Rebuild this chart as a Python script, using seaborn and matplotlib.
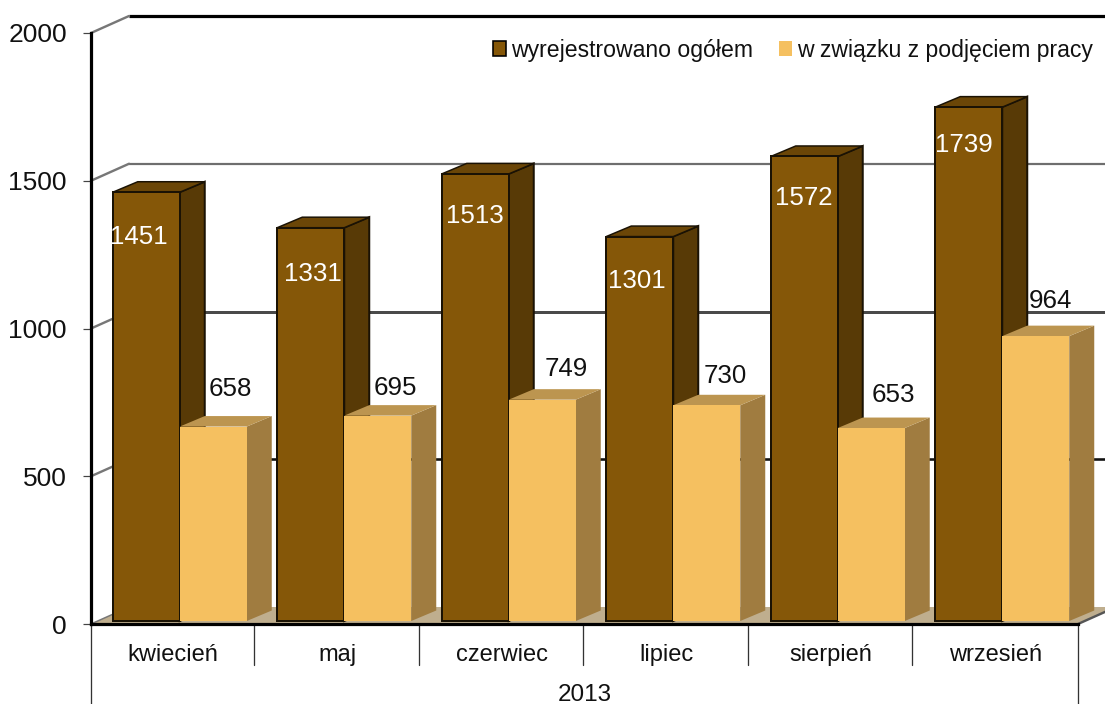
import matplotlib
matplotlib.use("Agg")
import matplotlib.pyplot as plt
import pandas as pd
import seaborn as sns
from matplotlib.patches import Polygon

months = ["kwiecień", "maj", "czerwiec", "lipiec", "sierpień", "wrzesień"]
year_label = "2013"
series_names = ["wyrejestrowano ogółem", "w związku z podjęciem pracy"]
total_values = [1451, 1331, 1513, 1301, 1572, 1739]
job_values = [658, 695, 749, 730, 653, 964]
y_ticks = [0, 500, 1000, 1500, 2000]

# layout only: label nudges in pixels (dx, dy above the bar top)
total_nudge = [(-7, -45), (2, -46), (0, -42), (-3, -44), (-1, -42), (-5, -38)]
job_nudge = [(17, 38), (17.5, 28), (24, 31), (18.5, 29), (22, 33), (14.5, 35)]

W, H = 1105, 704
AX_L, AX_R, AX_T, AX_B = 91, 1078, 33, 624
PX = 6 / (AX_R - AX_L)        # category units per pixel
PY = 2000 / (AX_B - AX_T)     # value units per pixel
pt = 72 / 100                 # points per pixel

sns.set_theme(style="white")
plt.rcParams["font.family"] = ["Liberation Sans", "DejaVu Sans"]

fig = plt.figure(figsize=(W / 100, H / 100), dpi=100)
ax = fig.add_axes([AX_L / W, 1 - AX_B / H, (AX_R - AX_L) / W, (AX_B - AX_T) / H])

df = pd.DataFrame({
    "month": months * 2,
    "series": [series_names[0]] * 6 + [series_names[1]] * 6,
    "value": total_values + job_values,
})
front = ["#855708", "#F5C060"]
side = ["#583A06", "#A07C40"]
top = ["#6B4607", "#BC9550"]
edge = ["#1A1204", "none"]

sns.barplot(data=df, x="month", y="value", hue="series", order=months,
            hue_order=series_names, palette=front, saturation=1,
            width=134 / 164.5, gap=0, ax=ax, legend=True, zorder=3)
ax.set_xlim(-0.5, 5.5)
ax.set_ylim(0, 2000)
ax.set_xlabel("")
ax.set_ylabel("")

# back wall, floor and grid, set back by the chart's depth
DX, DY = 38 * PX, 17 * PY
ax.add_patch(Polygon([(-0.5, 0), (5.5, 0), (5.5 + DX, DY), (-0.5 + DX, DY)],
                     closed=True, fc="#BFAE8E", ec="none", zorder=1, clip_on=False))
grid_style = {500: ("#111111", 2.6), 1000: ("#4A4A4A", 3.0),
              1500: ("#6E6E6E", 2.2), 2000: ("#000000", 3.2)}
for v in y_ticks[1:]:
    col, lw = grid_style[v]
    ax.plot([-0.5 + DX, 5.5 + DX], [v + DY, v + DY], color=col, lw=lw * pt,
            clip_on=False, zorder=1, solid_capstyle="butt")
    ax.plot([-0.5, -0.5 + DX], [v, v + DY], color="#777777", lw=2.4 * pt,
            clip_on=False, zorder=1)
ax.plot([5.5, 5.5 + DX], [0, DY], color="#555555", lw=2.4 * pt, clip_on=False, zorder=2)
ax.plot([-0.5, -0.5 + DX], [0, DY], color="#777777", lw=1.5 * pt, clip_on=False, zorder=2)

# extrude each bar into a box sitting mid-way in the depth
SHIFT_X, SHIFT_Y = 6.5 * PX, 3 * PY
BX, BY = 25 * PX, 10.5 * PY
for s, container in enumerate(ax.containers):
    z = 3 + s
    nudges = total_nudge if s == 0 else job_nudge
    values = total_values if s == 0 else job_values
    for i, bar in enumerate(container):
        bar.set_x(bar.get_x() + SHIFT_X)
        bar.set_y(SHIFT_Y)
        bar.set_zorder(z + 0.2)
        bar.set_edgecolor(edge[s])
        bar.set_linewidth(2 * pt if s == 0 else 0)
        x0, x1 = bar.get_x(), bar.get_x() + bar.get_width()
        y0, y1 = bar.get_y(), bar.get_y() + bar.get_height()
        ax.add_patch(Polygon([(x1, y0), (x1 + BX, y0 + BY), (x1 + BX, y1 + BY), (x1, y1)],
                             closed=True, fc=side[s], ec=edge[s],
                             lw=2 * pt if s == 0 else 0, zorder=z, clip_on=False))
        ax.add_patch(Polygon([(x0, y1), (x1, y1), (x1 + BX, y1 + BY), (x0 + BX, y1 + BY)],
                             closed=True, fc=top[s], ec=edge[s],
                             lw=1.5 * pt if s == 0 else 0, zorder=z, clip_on=False))
        dx, dy = nudges[i]
        ax.annotate(str(values[i]), ((x0 + x1) / 2, y1), xytext=(dx * pt, dy * pt),
                    textcoords="offset points", ha="center", va="center",
                    fontsize=18.6, color="white" if s == 0 else "#111111",
                    zorder=6, annotation_clip=False)

# axes
sns.despine(ax=ax, top=True, right=True)
for name in ("left", "bottom"):
    ax.spines[name].set_color("black")
    ax.spines[name].set_linewidth(3.2 * pt)
    ax.spines[name].set_zorder(7)
ax.set_yticks(y_ticks)
ax.tick_params(axis="y", left=True, length=8 * pt, width=1.2 * pt, color="#444444",
               labelsize=19, labelcolor="#111111", pad=16 * pt)
ax.tick_params(axis="x", bottom=False, labelsize=17, labelcolor="#111111", pad=12 * pt)

# multi-level category separators
for k in range(7):
    outer = k in (0, 6)
    depth = 80 if outer else 41
    xpos = k - 0.5 if outer else k - 0.5 - 1.5 * PX
    ax.plot([xpos, xpos], [0, -depth * PY], color="#333333", lw=1.3 * pt,
            clip_on=False, zorder=2)
ax.text(2.5, -71 * PY, year_label, ha="center", va="center", fontsize=17.5, color="#111111")

# legend
handles, labels = ax.get_legend_handles_labels()
leg = ax.legend(handles, labels, ncol=2, frameon=False, loc="center left",
                bbox_to_anchor=(493 / W, 1 - 50 / H), bbox_transform=fig.transFigure,
                fontsize=16.6, handlelength=0.58, handleheight=0.58,
                handletextpad=0.19, columnspacing=1.14, borderpad=0, borderaxespad=0,
                labelcolor="#111111")
leg.set_zorder(8)
for h, e in zip(leg.legend_handles, ["#000000", "none"]):
    h.set_edgecolor(e)
    h.set_linewidth(1.6 * pt)

fig.savefig("out.png", dpi=100, facecolor="white")
